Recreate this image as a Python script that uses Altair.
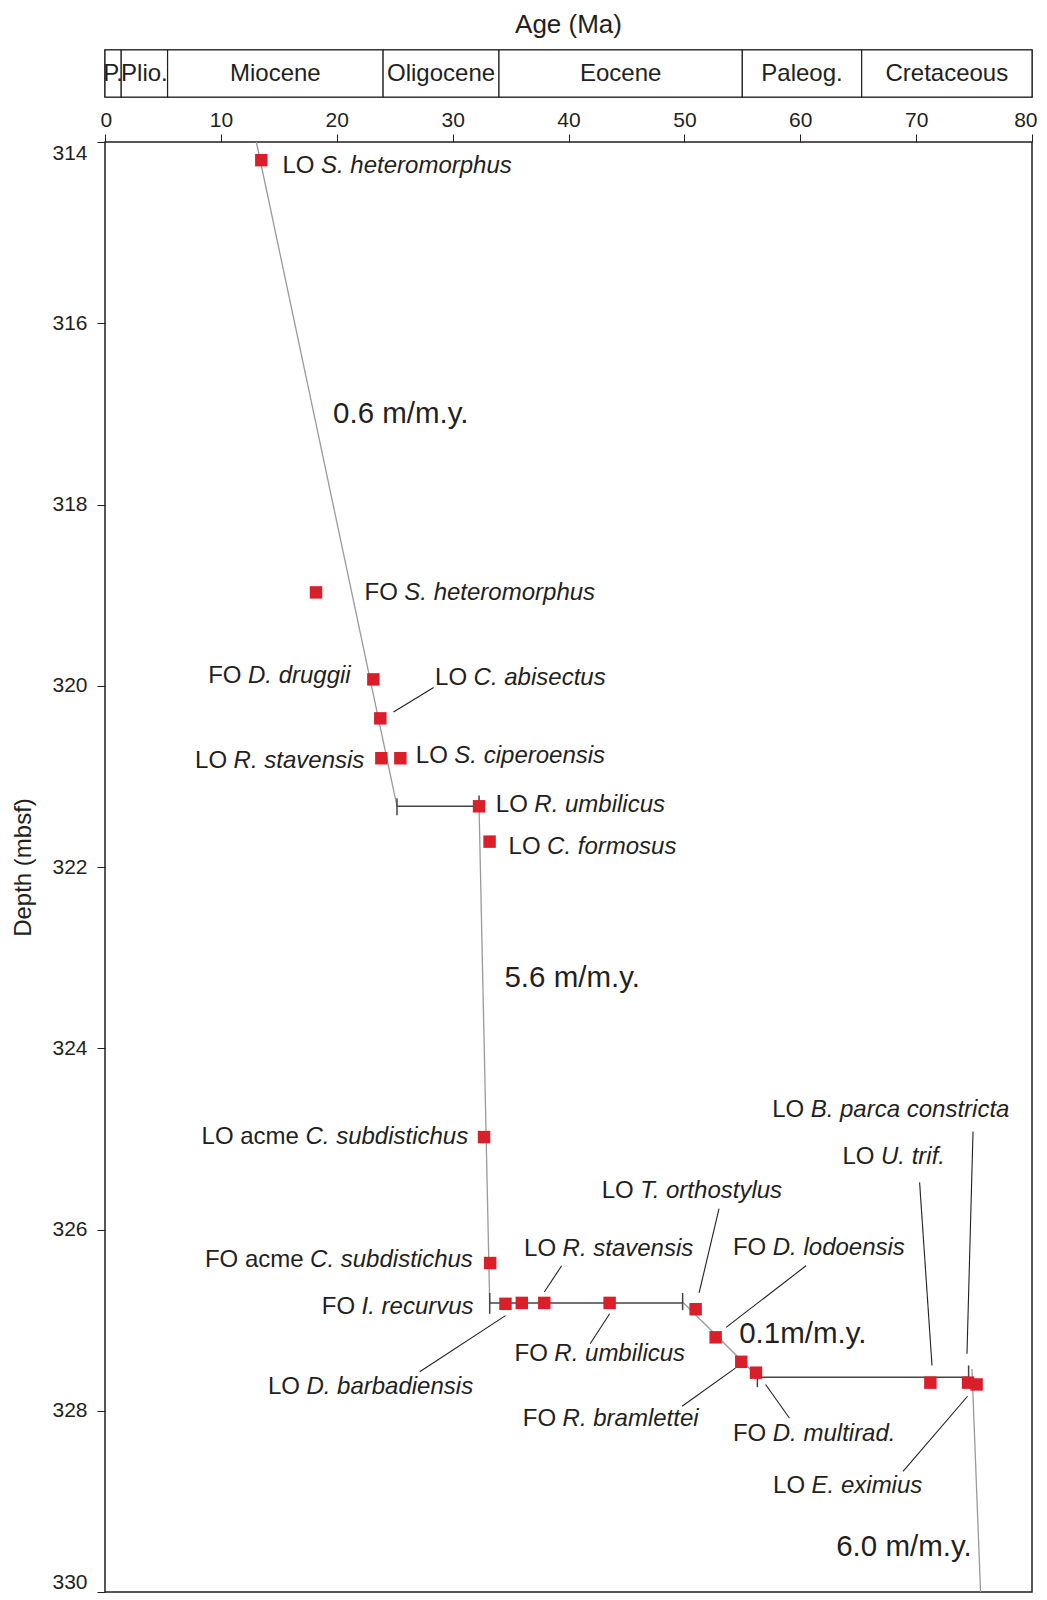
import altair as alt
import pandas as pd

FONT = "Liberation Sans"
TXT = "#231f20"
RED = "#d81f2a"

# ---- geological time scale bar ----
epoch_names = ["P.", "Plio.", "Miocene", "Oligocene", "Eocene", "Paleog.", "Cretaceous"]
epoch_start = [0.0, 1.4, 5.4, 24.0, 34.0, 55.0, 65.3]
epoch_end = [1.4, 5.4, 24.0, 34.0, 55.0, 65.3, 80.0]

# ---- biostratigraphic datums (age Ma, depth mbsf) ----
datum_age = [13.49, 18.21, 23.16, 23.76, 23.85, 25.49, 32.28, 33.19, 32.71, 33.24,
             34.56, 35.97, 37.91, 43.55, 50.97, 52.70, 54.91, 56.18, 71.23, 74.48, 75.22]
datum_depth = [314.20, 318.97, 319.93, 320.36, 320.80, 320.80, 321.33, 321.72, 324.98, 326.37,
               326.82, 326.81, 326.81, 326.81, 326.88, 327.19, 327.46, 327.58, 327.69, 327.69, 327.71]

# ---- age-depth model (grey sedimentation-rate segments) ----
seg_x1 = [13.06, 32.28, 49.85, 74.82]
seg_y1 = [314.00, 321.33, 326.80, 327.54]
seg_x2 = [25.20, 33.20, 56.30, 75.56]
seg_y2 = [321.33, 326.81, 327.62, 330.00]

# ---- hiatuses (black) with end ticks ----
hia_x1 = [25.20, 33.20, 56.30, 25.20, 32.28, 33.20, 49.85, 56.30, 74.53]
hia_y1 = [321.33, 326.81, 327.63, 321.24, 321.21, 326.70, 326.70, 327.63, 327.50]
hia_x2 = [32.28, 49.85, 74.53, 25.20, 32.28, 33.20, 49.85, 56.30, 74.53]
hia_y2 = [321.33, 326.81, 327.63, 321.43, 321.33, 326.93, 326.89, 327.74, 327.63]

# ---- leader lines ----
lead_x1 = [24.90, 37.91, 34.56, 43.55, 54.40, 51.27, 53.60, 57.01, 71.37, 74.39, 74.44]
lead_y1 = [320.29, 326.69, 326.95, 326.93, 327.53, 326.70, 327.08, 327.71, 327.50, 327.37, 327.84]
lead_x2 = [28.36, 39.41, 27.16, 41.87, 49.80, 52.99, 60.50, 59.06, 70.30, 74.91, 68.87]
lead_y2 = [320.02, 326.40, 327.57, 327.26, 327.95, 325.77, 326.40, 328.08, 325.48, 324.92, 328.67]

# ---- datum labels ----
label_prefix = ["LO", "FO", "FO", "LO", "LO", "LO", "LO", "LO", "LO acme", "FO acme", "FO",
                "LO", "LO", "FO", "FO", "LO", "FO", "FO", "LO", "LO", "LO"]
label_species = ["S. heteromorphus", "S. heteromorphus", "D. druggii", "C. abisectus",
                 "R. stavensis", "S. ciperoensis", "R. umbilicus", "C. formosus",
                 "C. subdistichus", "C. subdistichus", "I. recurvus", "D. barbadiensis",
                 "R. stavensis", "R. umbilicus", "R. bramlettei", "T. orthostylus",
                 "D. lodoensis", "D. multirad.", "U. trif.", "B. parca constricta", "E. eximius"]
label_age = [18.64, 25.83, 12.34, 31.81, 11.10, 30.15, 37.05, 38.15, 17.30, 17.70, 22.14,
             17.38, 39.49, 38.78, 39.49, 46.19, 57.63, 57.63, 66.97, 60.90, 60.98]
label_depth = [314.26, 318.98, 319.89, 319.91, 320.83, 320.78, 321.32, 321.78, 324.98, 326.34,
               326.85, 327.74, 326.22, 327.37, 328.09, 325.57, 326.20, 328.26, 325.20, 324.68, 328.83]

# ---- sedimentation-rate labels ----
rate_text = ["0.6 m/m.y.", "5.6 m/m.y.", "0.1m/m.y.", "6.0 m/m.y."]
rate_age = [19.68, 34.47, 54.73, 63.10]
rate_depth = [317.00, 323.22, 327.15, 329.50]

W, H = 927, 1450

xs = alt.Scale(domain=[0, 80], nice=False, zero=False)
ys = alt.Scale(domain=[314, 330], reverse=True, nice=False, zero=False)

x_axis = alt.Axis(orient="top", values=list(range(0, 81, 10)), title=None, grid=False,
                  domain=False, tickSize=8, tickColor=TXT, labelFontSize=21, labelFont=FONT,
                  labelColor=TXT, labelPadding=4, labelFlush=True, labelFlushOffset=5)
y_axis = alt.Axis(values=list(range(314, 331, 2)), title="Depth (mbsf)", grid=False,
                  domain=False, tickSize=8, tickColor=TXT, labelFontSize=21, labelFont=FONT,
                  labelColor=TXT, labelPadding=10, labelFlush=True, labelFlushOffset=0,
                  titleFont=FONT, titleFontSize=24, titleFontWeight="normal", titleColor=TXT,
                  titlePadding=16)


def X(field):
    return alt.X(field, type="quantitative", scale=xs, axis=x_axis)


def Y(field):
    return alt.Y(field, type="quantitative", scale=ys, axis=y_axis)


# ---- epoch bar ----
epochs = pd.DataFrame({"name": epoch_names, "start": epoch_start, "end": epoch_end})
top_rect = alt.Chart(epochs).mark_rect(fill="white", stroke=TXT, strokeWidth=1.2).encode(
    x=alt.X("start:Q", scale=xs, axis=None), x2="end:Q",
    y=alt.value(0), y2=alt.value(47))
top_text = alt.Chart(epochs).transform_calculate(
    mid="(datum.start + datum.end) / 2").mark_text(
    font=FONT, fontSize=24, color=TXT, baseline="middle").encode(
    x=alt.X("mid:Q", scale=xs, axis=None), y=alt.value(24), text="name:N")
top_title = alt.Chart(pd.DataFrame({"t": ["Age (Ma)"]})).mark_text(
    font=FONT, fontSize=26, color=TXT, baseline="middle", align="center").encode(
    x=alt.datum(40, type="quantitative", scale=xs, axis=None), y=alt.value(-25), text="t:N")
top = alt.layer(top_rect, top_text, top_title).properties(width=W, height=47)

# ---- main panel ----
segs = pd.DataFrame({"x1": seg_x1, "y1": seg_y1, "x2": seg_x2, "y2": seg_y2})
hia = pd.DataFrame({"x1": hia_x1, "y1": hia_y1, "x2": hia_x2, "y2": hia_y2})
leads = pd.DataFrame({"x1": lead_x1, "y1": lead_y1, "x2": lead_x2, "y2": lead_y2})
pts = pd.DataFrame({"age": datum_age, "depth": datum_depth})
labs = pd.DataFrame({"prefix": label_prefix, "species": label_species,
                     "age": label_age, "depth": label_depth})
rates = pd.DataFrame({"text": rate_text, "age": rate_age, "depth": rate_depth})

grey = alt.Chart(segs).mark_rule(color="#9a9a9a", strokeWidth=1.3).encode(
    x=X("x1"), y=Y("y1"), x2="x2:Q", y2="y2:Q")
black = alt.Chart(hia).mark_rule(color="#444444", strokeWidth=1.5).encode(
    x=X("x1"), y=Y("y1"), x2="x2:Q", y2="y2:Q")
leader = alt.Chart(leads).mark_rule(color=TXT, strokeWidth=1.1).encode(
    x=X("x1"), y=Y("y1"), x2="x2:Q", y2="y2:Q")
points = alt.Chart(pts).mark_square(size=155, color=RED, opacity=1).encode(
    x=X("age"), y=Y("depth"))
prefix = alt.Chart(labs).mark_text(font=FONT, fontSize=24, color=TXT, align="right",
                                   baseline="middle", dx=-6.5).encode(
    x=X("age"), y=Y("depth"), text="prefix:N")
species = alt.Chart(labs).mark_text(font=FONT, fontSize=24, color=TXT, align="left",
                                    baseline="middle", fontStyle="italic").encode(
    x=X("age"), y=Y("depth"), text="species:N")
rate = alt.Chart(rates).mark_text(font=FONT, fontSize=29.5, color=TXT, align="left",
                                  baseline="middle").encode(
    x=X("age"), y=Y("depth"), text="text:N")

main = alt.layer(grey, black, leader, points, prefix, species, rate).properties(
    width=W, height=H)

chart = alt.vconcat(top, main, spacing=45, bounds="flush").properties(
    padding={"left": 3, "top": 3, "right": 0, "bottom": 0}
).configure(font=FONT).configure_view(stroke=TXT, strokeWidth=1.5)

chart.save("out.html", embed_options={"renderer": "svg", "actions": False})
